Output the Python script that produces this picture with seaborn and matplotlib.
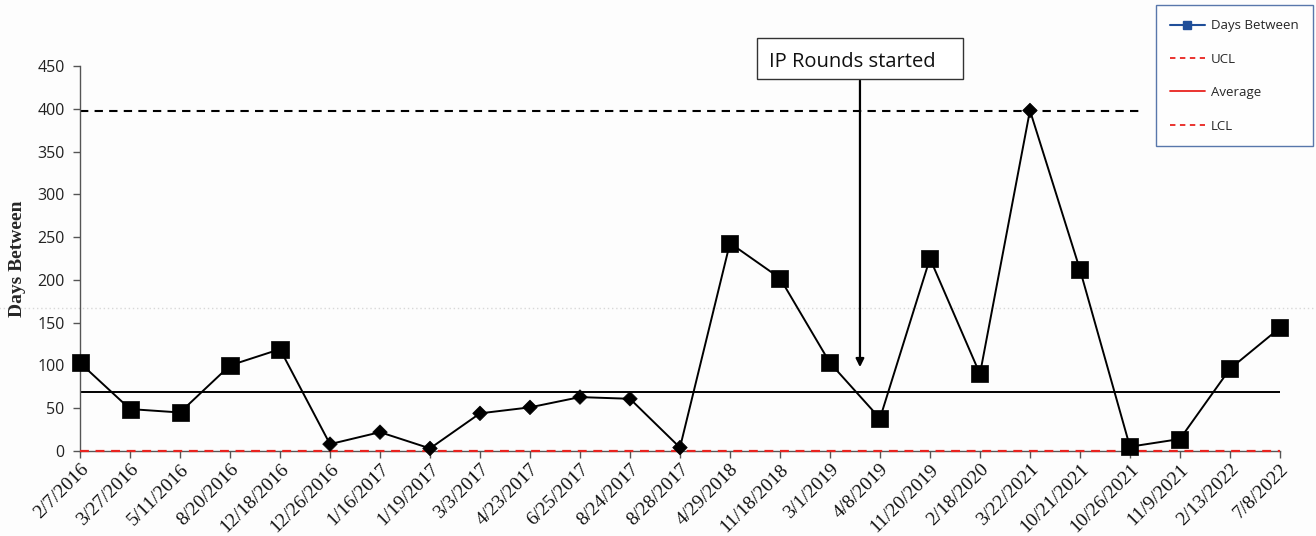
import numpy as np
import pandas as pd
import matplotlib
matplotlib.use("Agg")
import matplotlib.pyplot as plt
from matplotlib.lines import Line2D
from matplotlib.patches import Rectangle
import seaborn as sns

# Event dates and days elapsed since the previous event
dates = ["2/7/2016", "3/27/2016", "5/11/2016", "8/20/2016", "12/18/2016",
         "12/26/2016", "1/16/2017", "1/19/2017", "3/3/2017", "4/23/2017",
         "6/25/2017", "8/24/2017", "8/28/2017", "4/29/2018", "11/18/2018",
         "3/1/2019", "4/8/2019", "11/20/2019", "2/18/2020", "3/22/2021",
         "10/21/2021", "10/26/2021", "11/9/2021", "2/13/2022", "7/8/2022"]
days_between = [103, 49, 45, 100, 119,
                8, 22, 3, 44, 51,
                63, 61, 4, 243, 202,
                103, 38, 225, 90, 398,
                212, 5, 14, 96, 144]

# Control limits
ucl = 397
average = 69
lcl = 0

# Points drawn with a diamond marker instead of a square
diamond_dates = ["12/26/2016", "1/16/2017", "1/19/2017", "3/3/2017", "4/23/2017",
                 "6/25/2017", "8/24/2017", "8/28/2017", "3/22/2021"]

y_ticks = [0, 50, 100, 150, 200, 250, 300, 350, 400, 450]

df = pd.DataFrame({"date": dates, "days": days_between})
df["pos"] = np.arange(len(df))
df["shape"] = np.where(df["date"].isin(diamond_dates), "diamond", "square")

sns.set_theme(style="white")
plt.rcParams["font.family"] = ["Open Sans", "DejaVu Sans"]

fig = plt.figure(figsize=(13.16, 5.36), dpi=100)
fig.patch.set_facecolor("#fdfdfd")
ax = fig.add_axes([0.0608, 0.1586, 0.9118, 0.7183])
ax.set_facecolor("#fdfdfd")

# Faint dotted guide across the figure at 167 days
ax.axhline(167, xmin=-0.07, xmax=1.04, color="#d8d8d8", lw=1.0,
           ls=(0, (1, 2)), zorder=0, clip_on=False)

# Control lines
ax.axhline(ucl, xmin=0, xmax=0.883, color="black", lw=1.5, ls=(0, (4, 3)), zorder=1)
ax.axhline(average, color="black", lw=1.4, zorder=1)
ax.axhline(lcl, color="#e8231f", lw=1.6, ls=(0, (4, 3)), zorder=3, clip_on=False)

# Series line and markers
sns.lineplot(data=df, x="pos", y="days", ax=ax, color="black", lw=1.4,
             legend=False, zorder=4)
sns.scatterplot(data=df, x="pos", y="days", style="shape",
                markers={"square": "s", "diamond": "D"},
                size="shape", sizes={"square": 150, "diamond": 55},
                color="black", edgecolor="black", linewidth=0.5,
                ax=ax, legend=False, zorder=5, clip_on=False)

ax.set_xlim(0, len(dates) - 1)
ax.set_ylim(0, 450)
ax.set_yticks(y_ticks)
ax.set_yticklabels([str(t) for t in y_ticks], fontsize=11.5, color="#222222")
ax.set_xticks(df["pos"])
ax.set_xticklabels(dates, rotation=45, ha="right", rotation_mode="anchor",
                   fontsize=14, family="Liberation Serif", color="#111111")
ax.set_xlabel("")
ax.set_ylabel("Days Between", fontsize=14, family="Liberation Serif",
              fontweight="bold", labelpad=8)

for side in ["top", "right"]:
    ax.spines[side].set_visible(False)
for side in ["left", "bottom"]:
    ax.spines[side].set_color("#555555")
    ax.spines[side].set_linewidth(1.0)
ax.tick_params(axis="both", which="major", direction="out", length=5,
               width=1.0, color="#555555", bottom=True, left=True)
ax.tick_params(axis="x", pad=2)
ax.tick_params(axis="y", pad=6)

# Annotation marking the start of IP rounds
ax.annotate("", xy=(15.6, 98), xytext=(15.6, 433),
            arrowprops=dict(arrowstyle="-|>", color="black", lw=1.6,
                            mutation_scale=12, shrinkA=0, shrinkB=0))
ax.add_patch(Rectangle((13.54, 435), 4.12, 48, facecolor="white",
                       edgecolor="#333333", lw=1.0, clip_on=False, zorder=6))
ax.text(13.78, 458, "IP Rounds started", ha="left", va="center_baseline",
        fontsize=14.5, family="Open Sans", color="#111111",
        clip_on=False, zorder=7)

# Legend
handles = [
    Line2D([0], [0], color="#1f4e99", lw=1.5, marker="s", markersize=6,
           markerfacecolor="#1f4e99", markeredgecolor="#1f4e99"),
    Line2D([0], [0], color="#e8231f", lw=1.3, ls=(0, (3, 2.5))),
    Line2D([0], [0], color="#e8231f", lw=1.3),
    Line2D([0], [0], color="#e8231f", lw=1.3, ls=(0, (3, 2.5))),
]
labels = ["Days Between", "UCL", "Average", "LCL"]
leg = fig.legend(handles, labels, loc="upper right",
                 bbox_to_anchor=(0.9975, 0.99), frameon=True, fancybox=False,
                 fontsize=9.5, handlelength=2.6, labelspacing=1.55,
                 borderpad=1.05, handletextpad=0.5, borderaxespad=0)
leg.get_frame().set_edgecolor("#2f5597")
leg.get_frame().set_linewidth(1.0)
leg.get_frame().set_facecolor("white")

fig.savefig("out.png", dpi=100, facecolor=fig.get_facecolor())
